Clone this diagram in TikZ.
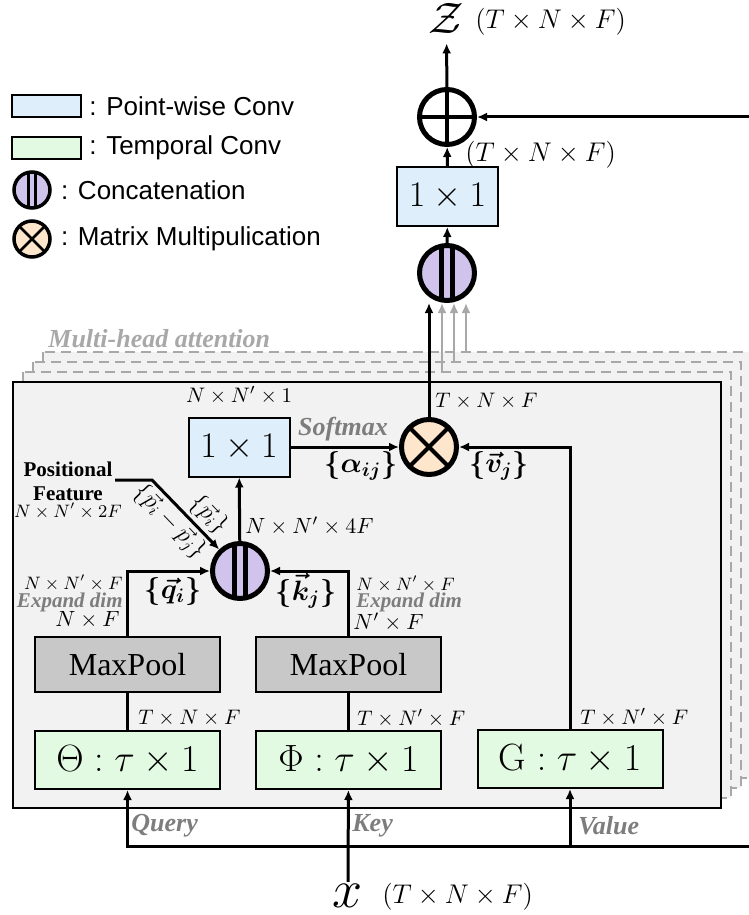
\RequirePackage{fix-cm}
\documentclass[tikz,border=0pt]{standalone}
\usepackage{amsmath,amssymb}
\usepackage{fontspec}
\newfontfamily\helvfont{Liberation Sans}
\newfontfamily\timesfont{Liberation Serif}
\usepackage{xcolor}
\usepackage{tikz}
\usetikzlibrary{arrows.meta,positioning,calc}

\definecolor{pwfill}{RGB}{222,239,251}
\definecolor{tcfill}{RGB}{226,250,226}
\definecolor{catfill}{RGB}{209,196,236}
\definecolor{mmfill}{RGB}{253,230,203}
\definecolor{poolfill}{RGB}{200,200,200}
\definecolor{headfill}{RGB}{242,242,242}
\definecolor{labelgray}{RGB}{125,125,125}
\definecolor{headgray}{RGB}{168,168,168}

\begin{document}
\begin{tikzpicture}[x=0.5pt, y=-0.5pt, >={Latex[length=5pt,width=4.5pt]},
  flow/.style={line width=1.5pt},
  headflow/.style={line width=1pt, headgray},
  headframe/.style={line width=1pt, headgray, dash pattern=on 5pt off 3pt, fill=headfill},
  pwconv/.style={draw, line width=1pt, fill=pwfill, inner sep=0pt, minimum width=50.5pt, minimum height=29.5pt, font=\fontsize{18}{18}\selectfont},
  tconv/.style={draw, line width=1pt, fill=tcfill, inner sep=0pt, minimum width=92.5pt, minimum height=29pt, font=\fontsize{19}{19}\selectfont},
  pool/.style={draw, line width=1pt, fill=poolfill, inner sep=0pt, minimum width=92.5pt, minimum height=27.5pt, font=\timesfont\fontsize{16}{16}\selectfont},
  concat/.style={circle, draw, line width=#1, fill=catfill, inner sep=0pt, minimum size=27.5pt,
    path picture={
      \draw[line width=#1] ($(path picture bounding box.north)!0.2!(path picture bounding box.north west)$) -- ($(path picture bounding box.south)!0.2!(path picture bounding box.south west)$);
      \draw[line width=#1] ($(path picture bounding box.north)!0.2!(path picture bounding box.north east)$) -- ($(path picture bounding box.south)!0.2!(path picture bounding box.south east)$);}},
  concat/.default=2.5pt,
  matmul/.style={circle, draw, line width=#1, fill=mmfill, inner sep=0pt, minimum size=27.5pt,
    path picture={
      \draw[line width=0.8*#1] (path picture bounding box.north west) -- (path picture bounding box.south east)
        (path picture bounding box.north east) -- (path picture bounding box.south west);}},
  matmul/.default=2.5pt,
  oplus/.style={circle, draw, line width=2.5pt, fill=white, inner sep=0pt, minimum size=27.5pt,
    path picture={
      \draw[line width=2pt] (path picture bounding box.north) -- (path picture bounding box.south)
        (path picture bounding box.west) -- (path picture bounding box.east);}},
  legtext/.style={font=\helvfont\fontsize{13}{15}\selectfont, inner sep=0pt, anchor=west},
  graylab/.style={text=labelgray, font=\timesfont\bfseries\itshape\fontsize{13}{15}\selectfont, inner sep=0pt},
  graysmall/.style={text=labelgray, font=\timesfont\bfseries\itshape\fontsize{10.5}{12}\selectfont, inner sep=0pt},
  posfont/.style={font=\timesfont\bfseries\fontsize{10.5}{12}\selectfont, inner sep=0pt},
  dimbig/.style={font=\fontsize{13.5}{15}\selectfont, inner sep=0pt},
  dimmid/.style={font=\fontsize{11}{13}\selectfont, inner sep=0pt},
  dimnote/.style={font=\fontsize{10.5}{12}\selectfont, inner sep=0pt},
  dimtiny/.style={font=\fontsize{9}{10}\selectfont, inner sep=0pt},
  boldlab/.style={font=\fontsize{14}{16}\selectfont, inner sep=0pt},
  plab/.style={font=\fontsize{12}{14}\selectfont, inner sep=0pt, rotate=-46}]
\useasboundingbox (0,0) rectangle (749,915);
\clip (0,0) rectangle (749,915);

% Legend
\node[pwconv, minimum width=34.5pt, minimum height=11pt] (lgpw) at (46.5,106) {};
\node[legtext, right=3.5pt of lgpw] {: Point-wise Conv};
\node[tconv, minimum width=34.5pt, minimum height=11pt] (lgtc) at (46.5,148) {};
\node[legtext, right=3.5pt of lgtc] {: Temporal Conv};
\node[concat=1.75pt, minimum size=18pt] (lgcat) at (32,190) {};
\node[legtext, right=4.5pt of lgcat] {: Concatenation};
\node[matmul=1.75pt, minimum size=18pt] (lgmm) at (32,239) {};
\node[legtext, right=4.5pt of lgmm] {: Matrix Multipulication};

% Output branch
\node[inner sep=1pt, font=\fontsize{22}{22}\selectfont] (zout) at (446.5,18) {$\mathcal{Z}$};
\node[dimbig, anchor=west] at (475,22) {$(T\times N\times F)$};
\node[oplus] (sum) at (447,117) {};
\node[pwconv] (outconv) at (447.5,196.5) {$1\times 1$};
\node[dimbig, anchor=west] at (465,155) {$(T\times N\times F)$};
\node[concat] (headcat) at (447,273) {};
\coordinate (resin) at (760,117);
\draw[flow,->, shorten >=4pt] (sum) -- (zout);
\draw[flow,->] (resin) -- (sum);
\draw[flow,->] (outconv) -- (sum);
\draw[flow,->] (headcat) -- (outconv);

% Stacked heads
\foreach \k in {3,2,1}
  \draw[headframe] ({13+10*\k},{382-10*\k}) rectangle ({721+10*\k},{808-10*\k});
\node[graylab, text=headgray, anchor=west] at (48,339) {Multi-head attention};
\foreach \k/\xx in {1/442,2/454,3/466} {
  \coordinate (head\k) at (\xx,{382-10*\k});
  \draw[headflow,->] (head\k) -- (head\k |- headcat.south);
}
\draw[line width=1.2pt, fill=headfill] (13,382) rectangle (721,808);

% Attention score and aggregation
\node[matmul] (attmul) at (429,447) {};
\draw[flow,->] (attmul.north) -- (attmul.north |- headcat.south);
\node[dimnote, anchor=west] at (435,401) {$T\times N\times F$};
\node[pwconv] (scoreconv) at (239,447) {$1\times 1$};
\node[dimnote, above=6pt of scoreconv] {$N\times N'\times 1$};
\draw[flow,->] (scoreconv) -- (attmul);
\node[graylab] at (343,429) {Softmax};
\node[boldlab] at (361,466) {$\boldsymbol{\{\alpha_{ij}\}}$};
\node[boldlab] at (499,466) {$\boldsymbol{\{\vec{v}_j\}}$};

% Concatenation of query, key and position
\node[concat] (qkcat) at (240,571) {};
\draw[flow,->] (qkcat) -- (scoreconv);
\node[dimmid, anchor=west] at (245,526) {$N\times N'\times 4F$};
\node[posfont, align=center] (posname) at (68,481) {Positional\\Feature};
\node[dimtiny] (posdim) at (68,511) {$N\times N'\times 2F$};
\coordinate (pstart) at (115,480);
\coordinate (pbend) at (152,480);
\draw[flow,->] (pstart) -- (pbend) -- (qkcat);
\node[plab] at (209,515) {$\{\vec{p}_i\}$};
\node[plab] at (170,522) {$\{\vec{p}_i-\vec{p}_j\}$};

% Query and key branches
\node[pool] (qpool) at (127.5,664.5) {MaxPool};
\node[pool] (kpool) at (348.5,664.5) {MaxPool};
\node[tconv] (qconv) at (127.5,760) {$\Theta:\tau\times 1$};
\node[tconv] (kconv) at (348.5,760) {$\Phi:\tau\times 1$};
\node[tconv] (vconv) at (570,759) {$\mathrm{G}:\tau\times 1$};
\draw[flow,->] (qpool.north) |- (qkcat);
\draw[flow,->] (kpool.north) |- (qkcat);
\draw[flow] (qconv) -- (qpool);
\draw[flow] (kconv) -- (kpool);
\draw[flow,->] (vconv.north) |- (attmul);
\node[boldlab] at (173,591) {$\boldsymbol{\{\vec{q}_i\}}$};
\node[boldlab] at (306,591) {$\boldsymbol{\{\vec{k}_j\}}$};
\node[dimtiny, anchor=east] at (123,583) {$N\times N'\times F$};
\node[graysmall, anchor=east] at (123,602) {Expand dim};
\node[dimmid, anchor=east] at (120,620) {$N\times F$};
\node[dimtiny, anchor=west] at (356,584) {$N\times N'\times F$};
\node[graysmall, anchor=west] at (356,602) {Expand dim};
\node[dimmid, anchor=west] at (353,622) {$N'\times F$};
\node[dimnote, anchor=west] at (138,718) {$T\times N\times F$};
\node[dimnote, anchor=west] at (357,718) {$T\times N'\times F$};
\node[dimnote, anchor=west] at (580,717) {$T\times N'\times F$};

% Input
\node[inner sep=1pt, font=\fontsize{27}{27}\selectfont] (xin) at (348,896) {$x$};
\node[dimbig, anchor=west] at (382,897) {$(T\times N\times F)$};
\coordinate (resout) at (760,846);
\coordinate (vsplit) at (570,846);
\draw[flow,->] (resout) -| (qconv);
\draw[flow,->] (xin) -- (kconv);
\draw[flow,->] (vsplit) -- (vconv);
\node[graylab, anchor=west] at (131,826) {Query};
\node[graylab, anchor=west] at (352,826) {Key};
\node[graylab, anchor=west] at (578,826) {Value};
\end{tikzpicture}
\end{document}
